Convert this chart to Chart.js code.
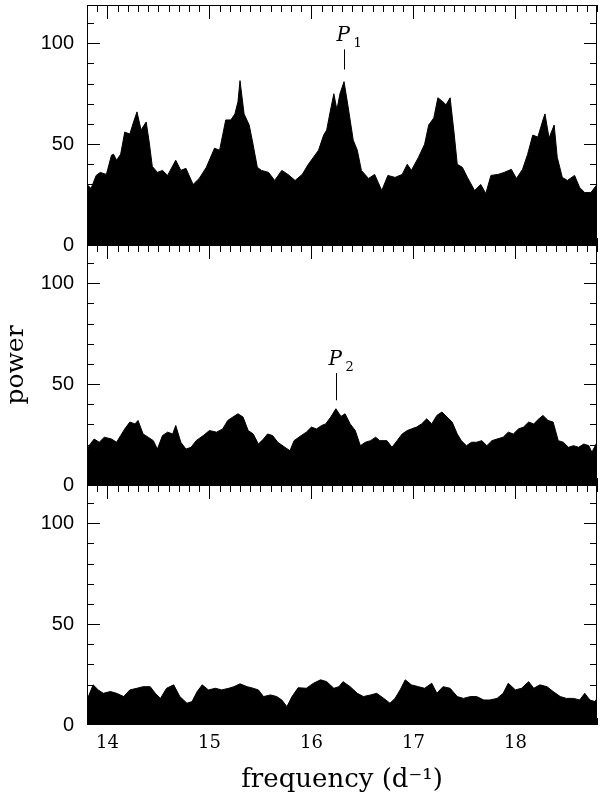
<!DOCTYPE html>
<html>
<head>
<meta charset="utf-8">
<script src="https://cdn.jsdelivr.net/npm/chart.js@4.4.1/dist/chart.umd.min.js"></script>
<style>
  html, body { margin: 0; padding: 0; background: #fff; }
  #wrap { position: relative; width: 600px; height: 796px; overflow: hidden; }
  #wrap canvas { position: absolute; left: 0; top: -40px; }
</style>
</head>
<body>
<div id="wrap">
  <canvas id="c1" width="600" height="836"></canvas>
  <canvas id="c2" width="600" height="836"></canvas>
  <canvas id="c3" width="600" height="836"></canvas>
</div>
<script>
// upper envelope of the periodograms (frequency in d^-1, power)
const freqTop = [
  13.80, 13.84, 13.89, 13.93, 13.99, 14.04, 14.06, 14.09, 14.13, 14.17,
  14.22, 14.25, 14.29, 14.33, 14.38, 14.41, 14.44, 14.49, 14.54, 14.59,
  14.67, 14.72, 14.77, 14.84, 14.90, 14.97, 15.05, 15.10, 15.16, 15.21,
  15.25, 15.28, 15.30, 15.34, 15.39, 15.42, 15.47, 15.51, 15.58, 15.64,
  15.71, 15.77, 15.84, 15.91, 15.97, 16.02, 16.07, 16.12, 16.15, 16.18,
  16.22, 16.25, 16.28, 16.32, 16.36, 16.41, 16.45, 16.49, 16.56, 16.62,
  16.69, 16.75, 16.82, 16.89, 16.94, 16.98, 17.05, 17.11, 17.15, 17.20,
  17.24, 17.29, 17.32, 17.36, 17.40, 17.43, 17.48, 17.53, 17.60, 17.66,
  17.71, 17.76, 17.83, 17.89, 17.96, 18.01, 18.07, 18.12, 18.17, 18.22,
  18.27, 18.29, 18.33, 18.38, 18.41, 18.46, 18.51, 18.58, 18.63, 18.68,
  18.74, 18.80
];
const powerTop = [
  30, 28, 34.5, 36, 35, 44.5, 45, 42, 45, 56,
  55, 60, 66, 57, 61, 51, 39, 36, 37, 34.5,
  42, 37, 38, 30, 33, 38.5, 48, 47, 62, 62,
  65, 71, 81.5, 65, 59.5, 52, 38.5, 37, 36, 32,
  37, 35, 32, 35, 40, 43.5, 47, 54.5, 57, 65,
  75, 67, 75, 81, 68.5, 52, 47, 37, 33, 35,
  27, 34.5, 33.5, 35, 40, 37, 43.5, 50, 59.5, 63,
  73, 71, 69.5, 73, 55, 40, 38.5, 33.5, 27, 30,
  25.5, 34.5, 35, 36, 37.5, 33, 37.5, 45, 54.5, 53.5,
  62, 65, 53, 59.5, 43.5, 33.5, 32, 34.5, 28.5, 26,
  26, 30
];

const freqMid = [
  13.80, 13.82, 13.87, 13.92, 13.97, 14.04, 14.09, 14.13, 14.17, 14.22,
  14.27, 14.30, 14.35, 14.40, 14.45, 14.49, 14.54, 14.59, 14.64, 14.67,
  14.72, 14.77, 14.82, 14.87, 14.94, 15.00, 15.07, 15.13, 15.18, 15.23,
  15.28, 15.33, 15.38, 15.43, 15.48, 15.53, 15.57, 15.62, 15.67, 15.74,
  15.79, 15.83, 15.90, 15.95, 16.00, 16.05, 16.10, 16.14, 16.19, 16.24,
  16.29, 16.33, 16.38, 16.43, 16.48, 16.53, 16.58, 16.63, 16.67, 16.74,
  16.79, 16.84, 16.89, 16.94, 16.98, 17.03, 17.08, 17.13, 17.18, 17.23,
  17.28, 17.33, 17.38, 17.43, 17.47, 17.52, 17.57, 17.62, 17.67, 17.72,
  17.77, 17.82, 17.88, 17.93, 17.98, 18.03, 18.08, 18.13, 18.18, 18.23,
  18.27, 18.32, 18.37, 18.42, 18.47, 18.52, 18.57, 18.62, 18.67, 18.72,
  18.75, 18.80
];
const powerMid = [
  16, 19.5, 22.8, 21.2, 23.7, 22.8, 21.2, 24.5, 27.8, 31.2,
  30.3, 32, 25.3, 23.7, 22, 17.8, 24.5, 26.2, 25.3, 29.5,
  21.2, 17.8, 18.7, 22, 24.5, 27, 26.2, 27.8, 32, 33.7,
  35.3, 33.7, 27, 25.3, 20.3, 22.8, 25.3, 24.5, 21.2, 18.7,
  17, 22, 24.5, 26.2, 28.7, 27.8, 29.5, 30.3, 33.7, 37.8,
  34, 35.3, 30.3, 27, 19.5, 21.2, 22, 23.7, 22, 22,
  18.7, 22, 25.3, 27, 27.8, 28.7, 30.3, 32.8, 30.3, 34.5,
  36.2, 33.7, 31.2, 25.3, 22, 19.5, 21.2, 21.2, 22, 19.5,
  22, 22.8, 23.7, 26.2, 25.3, 27.8, 28.7, 31.2, 30.3, 32.8,
  34.5, 32, 31.2, 22, 21.2, 18.7, 19.5, 18.7, 20.3, 19.5,
  16.2, 21.2
];

const freqBot = [
  13.80, 13.86, 13.91, 13.96, 14.03, 14.09, 14.16, 14.22, 14.29, 14.35,
  14.42, 14.47, 14.52, 14.58, 14.65, 14.71, 14.78, 14.83, 14.88, 14.93,
  14.99, 15.06, 15.12, 15.19, 15.24, 15.30, 15.37, 15.43, 15.48, 15.53,
  15.60, 15.66, 15.71, 15.76, 15.81, 15.87, 15.95, 16.02, 16.09, 16.15,
  16.22, 16.27, 16.31, 16.38, 16.45, 16.51, 16.58, 16.64, 16.71, 16.77,
  16.82, 16.87, 16.92, 16.98, 17.05, 17.11, 17.18, 17.23, 17.29, 17.36,
  17.43, 17.49, 17.56, 17.62, 17.69, 17.75, 17.82, 17.88, 17.93, 18.00,
  18.06, 18.13, 18.18, 18.24, 18.31, 18.37, 18.44, 18.50, 18.57, 18.63,
  18.68, 18.73, 18.78, 18.80
];
const powerBot = [
  12.4, 19.9, 17.4, 15.7, 16.6, 15.7, 14.1, 17.4, 18.2, 19,
  19, 15.7, 13.2, 18.2, 19.9, 14.1, 10.8, 11.6, 16.6, 19.9,
  17.4, 18.2, 17.4, 18.2, 19, 20.4, 19, 18.2, 17.4, 14.1,
  14.9, 14.1, 12.4, 9.1, 14.1, 18.5, 18.2, 20.7, 22.4, 21.5,
  18.2, 19, 21.5, 19, 15.7, 14.1, 14.9, 15.7, 13.2, 10.8,
  13.2, 17.4, 22.4, 19.9, 19, 18.2, 20.7, 15.7, 19, 18.2,
  14.1, 13.2, 14.1, 14.1, 12.4, 12.4, 13.2, 15.7, 20.7, 17.4,
  18.2, 21.5, 18.2, 19.9, 19, 16.6, 14.1, 13.2, 13.2, 12.4,
  15.7, 12.4, 11.6, 13.2
];

// tick labels
const xTicks = [14, 15, 16, 17, 18];
const yTicks = [0, 50, 100];

// marked peaks: label, frequency, marker line from/to power
const peakNames = ['1', '2'];
const peakFreq = [16.32, 16.245];
const peakFrom = [87, 42];
const peakTo = [97, 55.5];

const X_MIN = 13.8, X_MAX = 18.8, Y_MAX = 119;
const SHIFT = 40;      // canvases start 40px above the page so label overhang never moves the plot area
const CANVAS_H = 836;

// frame + inward ticks on all four sides
const framePlugin = {
  id: 'frame',
  afterDatasetsDraw(chart) {
    const { ctx, chartArea: a } = chart;
    const xs = chart.scales.x, ys = chart.scales.y;
    ctx.save();
    ctx.strokeStyle = '#000';
    ctx.lineWidth = 1;
    ctx.strokeRect(a.left + 0.5, a.top + 0.5, a.right - a.left - 1, a.bottom - a.top - 1);
    ctx.beginPath();
    for (let k = 138; k <= 188; k++) {
      const px = Math.round(xs.getPixelForValue(k / 10)) + 0.5;
      const len = k % 10 === 0 ? 14 : 7;
      ctx.moveTo(px, a.top); ctx.lineTo(px, a.top + len);
      ctx.moveTo(px, a.bottom); ctx.lineTo(px, a.bottom - len);
    }
    for (let v = 10; v < Y_MAX; v += 10) {
      const py = Math.round(ys.getPixelForValue(v)) + 0.5;
      const len = v % 50 === 0 ? 13 : 7;
      ctx.moveTo(a.left, py); ctx.lineTo(a.left + len, py);
      ctx.moveTo(a.right, py); ctx.lineTo(a.right - len, py);
    }
    ctx.stroke();
    ctx.restore();
  }
};

// P1 / P2 marker
function peakPlugin(i) {
  return {
    id: 'peak' + i,
    afterDatasetsDraw(chart) {
      const { ctx } = chart;
      const xs = chart.scales.x, ys = chart.scales.y;
      const px = Math.round(xs.getPixelForValue(peakFreq[i])) + 0.5;
      const y0 = ys.getPixelForValue(peakFrom[i]);
      const y1 = ys.getPixelForValue(peakTo[i]);
      ctx.save();
      ctx.strokeStyle = '#000';
      ctx.lineWidth = 1;
      ctx.beginPath();
      ctx.moveTo(px, y0); ctx.lineTo(px, y1);
      ctx.stroke();
      ctx.fillStyle = '#000';
      ctx.textBaseline = 'alphabetic';
      ctx.font = 'italic 20px "DejaVu Serif"';
      ctx.fillText('P', px - 8, y1 - 8);
      ctx.font = '13px "DejaVu Serif"';
      ctx.fillText(peakNames[i], px + 9, y1 - 2);
      ctx.restore();
    }
  };
}

function makePanel(id, freq, power, top, bottom, opts) {
  const isBottom = !!opts.bottomAxis;
  const plugins = [framePlugin];
  if (opts.peak !== undefined) plugins.push(peakPlugin(opts.peak));
  return new Chart(document.getElementById(id), {
    type: 'line',
    data: {
      datasets: [{
        data: freq.map((f, i) => ({ x: f, y: power[i] })),
        borderColor: '#000',
        borderWidth: 1,
        backgroundColor: '#000',
        fill: 'origin',
        pointRadius: 0,
        tension: 0
      }]
    },
    options: {
      responsive: false,
      animation: false,
      events: [],
      layout: {
        padding: {
          top: top + SHIFT,
          bottom: isBottom ? CANVAS_H - SHIFT - 796 : CANVAS_H - SHIFT - bottom,
          left: 0,
          right: 3
        }
      },
      plugins: { legend: { display: false }, tooltip: { enabled: false } },
      scales: {
        x: {
          type: 'linear',
          min: X_MIN,
          max: X_MAX,
          display: isBottom,
          grid: { display: false, drawTicks: false },
          border: { display: false },
          afterBuildTicks: s => { s.ticks = xTicks.map(v => ({ value: v })); },
          ticks: {
            autoSkip: false,
            maxRotation: 0,
            padding: 8,
            color: '#000',
            font: { family: 'DejaVu Serif', size: 18 }
          },
          title: {
            display: isBottom,
            text: 'frequency (d\u207B\u00B9)',
            color: '#000',
            padding: { top: 0, bottom: 0 },
            font: { family: 'DejaVu Serif', size: 26 }
          },
          afterFit: s => { s.height = isBottom ? 71 : 0; }
        },
        y: {
          min: 0,
          max: Y_MAX,
          grid: { display: false, drawTicks: false },
          border: { display: false },
          afterBuildTicks: s => { s.ticks = yTicks.map(v => ({ value: v })); },
          ticks: {
            autoSkip: false,
            padding: 13,
            color: '#000',
            font: { family: 'Liberation Sans', size: 20 }
          },
          title: {
            display: !!opts.yTitle,
            text: 'power',
            color: '#000',
            padding: { top: 1, bottom: 0 },
            font: { family: 'DejaVu Serif', size: 25 }
          },
          afterFit: s => { s.width = 87; }
        }
      }
    },
    plugins: plugins
  });
}

makePanel('c1', freqTop, powerTop, 5, 245, { peak: 0 });
makePanel('c2', freqMid, powerMid, 245, 485, { peak: 1, yTitle: true });
makePanel('c3', freqBot, powerBot, 485, 725, { bottomAxis: true });
</script>
</body>
</html>
